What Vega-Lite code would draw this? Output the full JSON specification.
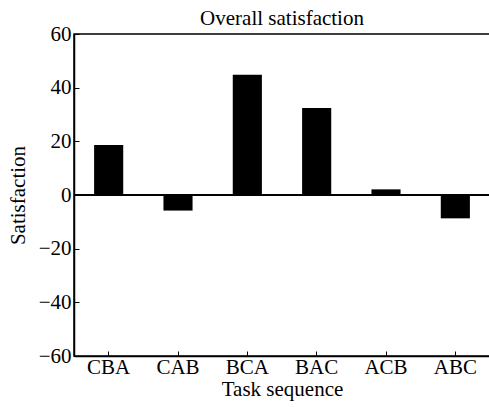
{
  "$schema": "https://vega.github.io/schema/vega-lite/v6.json",
  "autosize": "none",
  "padding": {"left": 74, "top": 34, "right": 0, "bottom": 51},
  "width": 416,
  "height": 322,
  "title": {"text": "Overall satisfaction", "font": "Liberation Serif", "fontSize": 21, "fontWeight": "normal", "color": "#000", "offset": -6},
  "config": {
    "view": {"stroke": "#000", "strokeWidth": 1.5},
    "axis": {"domainColor": "#000", "domainWidth": 1.5, "tickColor": "#000", "labelColor": "#000", "titleColor": "#000", "labelFont": "Liberation Serif", "titleFont": "Liberation Serif", "labelFontSize": 21, "titleFontSize": 21, "titleFontWeight": "normal", "grid": false}
  },
  "data": {"values": [
    {"seq": "CBA", "sat": 18.6},
    {"seq": "CAB", "sat": -5.8},
    {"seq": "BCA", "sat": 44.8},
    {"seq": "BAC", "sat": 32.4},
    {"seq": "ACB", "sat": 2.1},
    {"seq": "ABC", "sat": -8.7}
  ]},
  "layer": [
    {
      "mark": {"type": "bar", "color": "#000"},
      "encoding": {
        "x": {"field": "seq", "type": "nominal", "sort": null, "title": "Task sequence",
          "scale": {"paddingInner": 0.58, "paddingOuter": 0.29},
          "axis": {"labelAngle": 0, "tickSize": -5, "labelPadding": 5, "titlePadding": 1}},
        "y": {"field": "sat", "type": "quantitative", "title": "Satisfaction",
          "scale": {"domain": [-60, 60], "nice": false},
          "axis": {"values": [-60, -40, -20, 0, 20, 40, 60], "tickSize": -5, "labelPadding": 8, "titlePadding": 10}}
      }
    },
    {
      "mark": {"type": "rule", "color": "#000", "strokeWidth": 1.5},
      "encoding": {"y": {"datum": 0}}
    }
  ]
}
